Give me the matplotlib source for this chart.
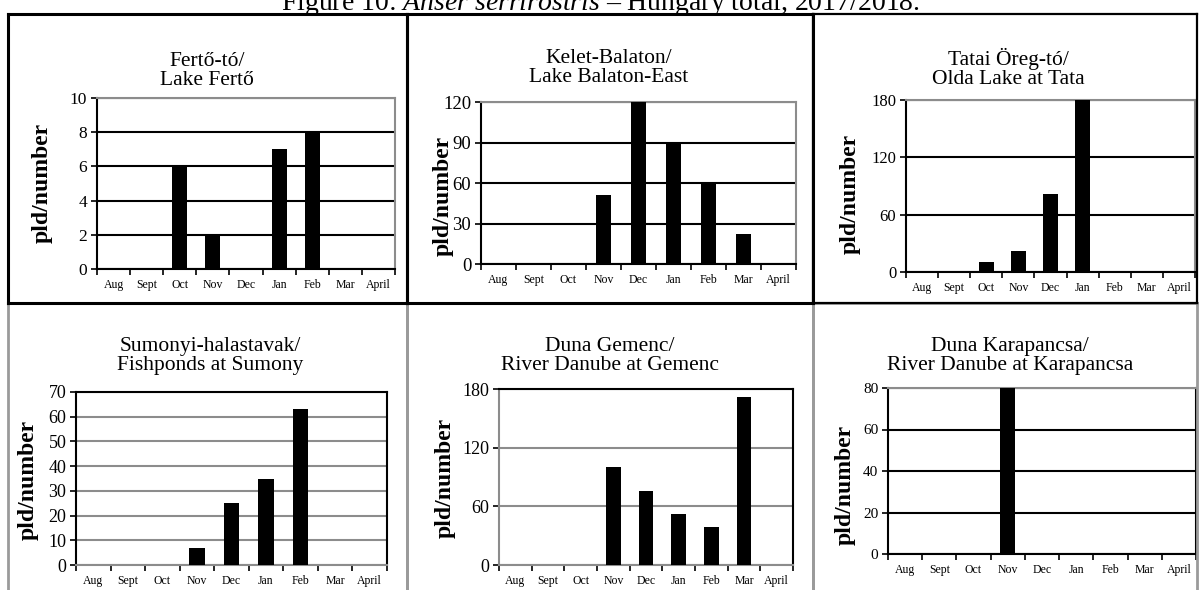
import matplotlib
matplotlib.use("Agg")
from matplotlib import pyplot as plt
from matplotlib.lines import Line2D
import numpy as np

plt.rcParams['font.family'] = ['Liberation Serif', 'DejaVu Serif']
plt.rcParams['mathtext.fontset'] = 'custom'
plt.rcParams['mathtext.rm'] = 'Liberation Serif'
plt.rcParams['mathtext.it'] = 'Liberation Serif:italic'

W, H = 1200, 590

months = ["Aug", "Sept", "Oct", "Nov", "Dec", "Jan", "Feb", "Mar", "April"]

# counts per site (pld/number)
ferto = [0, 0, 6, 2, 0, 7, 8, 0, 0]
balaton_east = [0, 0, 0, 51, 120, 90, 60, 22, 0]
tata = [0, 0, 10, 22, 82, 180, 0, 0, 0]
sumony = [0, 0, 0, 7, 25, 35, 63, 0, 0]
gemenc = [0, 0, 0, 100, 76, 52, 39, 172, 0]
karapancsa = [0, 0, 0, 80, 0, 0, 0, 0, 0]

titles = ["Fertő-tó/\nLake Fertő",
          "Kelet-Balaton/\nLake Balaton-East",
          "Tatai Öreg-tó/\nOlda Lake at Tata",
          "Sumonyi-halastavak/\nFishponds at Sumony",
          "Duna Gemenc/\nRiver Danube at Gemenc",
          "Duna Karapancsa/\nRiver Danube at Karapancsa"]
series = [ferto, balaton_east, tata, sumony, gemenc, karapancsa]
y_max = [10, 120, 180, 70, 180, 80]
y_step = [2, 30, 60, 10, 60, 20]

# layout in pixels: plot box (x0, y0, x1, y1), title centre, ylabel centre
boxes = [(97, 98, 395, 269), (481, 102, 796, 264), (906, 100, 1195, 272),
         (76, 392, 387, 565), (499, 389, 793, 565), (888, 388, 1196, 554)]
title_pos = [(207, 71), (609, 68), (1008, 68), (210, 356), (610, 356), (1010, 356)]
ylab_pos = [(42, 183), (443, 196), (850, 194), (28, 480), (445, 478), (845, 485)]
ytick_size = [12.5, 13.5, 12, 13, 13, 11]
grid_col = ["black", "black", "black", "#8c8c8c", "#8c8c8c", "black"]
# spine colours: left, bottom, top, right
spine_col = [("black", "black", "#8c8c8c", "#8c8c8c"),
             ("black", "black", "#8c8c8c", "#8c8c8c"),
             ("black", "black", "#8c8c8c", "#8c8c8c"),
             ("black", "#8c8c8c", "black", "black"),
             ("#8c8c8c", "#8c8c8c", "black", "black"),
             ("black", "black", "#8c8c8c", "black")]

fig = plt.figure(figsize=(W / 100, H / 100), dpi=100)


def fx(x):
    return x / W


def fy(y):
    return 1 - y / H


def frame(x0, y0, x1, y1, color, lw):
    for xs, ys in [((x0, x1), (y0, y0)), ((x0, x1), (y1, y1)),
                   ((x0, x0), (y0, y1)), ((x1, x1), (y0, y1))]:
        fig.add_artist(Line2D([fx(xs[0]), fx(xs[1])], [fy(ys[0]), fy(ys[1])],
                              color=color, lw=lw, solid_capstyle="projecting"))


# panel frames: bottom row grey, top row black on top
frame(8, 303, 407, 600, "#9a9a9a", 2)
frame(407, 303, 813, 600, "#9a9a9a", 2)
frame(813, 303, 1197, 600, "#9a9a9a", 2)
frame(8, 14, 407, 303, "black", 2.2)
frame(407, 14, 813, 303, "black", 2.2)
frame(813, 14, 1197, 303, "black", 1.6)

# page caption, clipped at the top like in the scan
fig.text(0.5, fy(10), "Figure 10: $\\mathit{Anser\\ serrirostris}$ – Hungary total, 2017/2018.",
         ha="center", va="baseline", fontsize=20)

x = np.arange(len(months))
for i in range(6):
    x0, y0, x1, y1 = boxes[i]
    ax = fig.add_axes([fx(x0), fy(y1), fx(x1 - x0), (y1 - y0) / H])
    ax.bar(x, series[i], width=0.45, color="black", zorder=3)
    ax.set_xlim(-0.5, len(months) - 0.5)
    ax.set_ylim(0, y_max[i])
    ax.set_yticks(np.arange(0, y_max[i] + 1, y_step[i]))
    ax.yaxis.grid(True, color=grid_col[i], lw=1.5, zorder=1)
    ax.set_axisbelow(True)
    ax.set_xticks(x)
    ax.set_xticklabels(months, fontsize=8.5)
    ax.set_xticks(np.arange(-0.5, len(months), 1), minor=True)
    ax.tick_params(axis="x", which="major", length=0, pad=7)
    ax.tick_params(axis="x", which="minor", length=4, width=1.2, direction="out")
    ax.tick_params(axis="y", length=4, width=1.2, labelsize=ytick_size[i], pad=3)
    cl, cb, ct, cr = spine_col[i]
    for name, col in zip(["left", "bottom", "top", "right"], [cl, cb, ct, cr]):
        ax.spines[name].set_color(col)
        ax.spines[name].set_linewidth(1.5)
    fig.text(fx(title_pos[i][0]), fy(title_pos[i][1]), titles[i], ha="center",
             va="center", fontsize=15.5, linespacing=1.0)
    fig.text(fx(ylab_pos[i][0]), fy(ylab_pos[i][1]), "pld/number", rotation=90,
             ha="center", va="center", fontsize=17, fontweight="bold")

fig.savefig("out.png", dpi=100)
